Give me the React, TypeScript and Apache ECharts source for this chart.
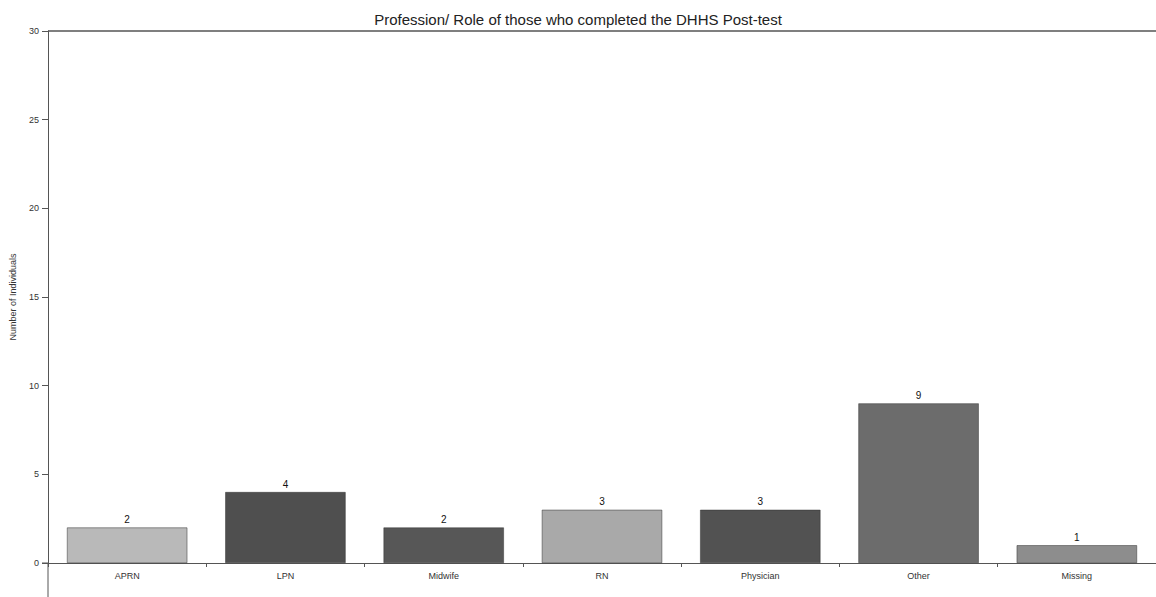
import React, { useEffect, useRef } from "react";
import * as echarts from "echarts";

const titleText = "Profession/ Role of those who completed the DHHS Post-test";
const categories = ["APRN", "LPN", "Midwife", "RN", "Physician", "Other", "Missing"];
const counts = [2, 4, 2, 3, 3, 9, 1];
const barColors = ["#b9b9b9", "#4f4f4f", "#575757", "#a9a9a9", "#525252", "#6c6c6c", "#8d8d8d"];
const yTicks = [0, 5, 10, 15, 20, 25, 30];
const yAxisName = "Number of Individuals";

export default function App() {
  const ref = useRef<HTMLDivElement>(null);
  useEffect(() => {
    if (!ref.current) return;
    const chart = echarts.init(ref.current, undefined, { renderer: "svg" });
    const font = "'Liberation Sans', Arial, sans-serif";
    chart.setOption({
      animation: false,
      backgroundColor: "#ffffff",
      title: {
        text: titleText,
        left: "center",
        top: 7,
        textStyle: { fontFamily: font, fontSize: 15, fontWeight: "normal", color: "#222" },
      },
      grid: { left: 48, right: 0, top: 31, bottom: 34, containLabel: false },
      xAxis: {
        type: "category",
        data: categories,
        axisLine: { show: true, lineStyle: { color: "#555", width: 1 } },
        axisTick: { show: true, length: 4, lineStyle: { color: "#555" } },
        axisLabel: { fontFamily: font, fontSize: 9, color: "#333", margin: 8 },
      },
      yAxis: {
        type: "value",
        min: yTicks[0],
        max: yTicks[yTicks.length - 1],
        interval: 5,
        name: yAxisName,
        nameLocation: "middle",
        nameGap: 31,
        nameTextStyle: { fontFamily: font, fontSize: 9, color: "#333" },
        axisLine: { show: true, lineStyle: { color: "#555", width: 1 } },
        axisTick: { show: true, length: 6, lineStyle: { color: "#555" } },
        axisLabel: { fontFamily: font, fontSize: 9, color: "#333", margin: 9 },
        splitLine: { show: false },
      },
      series: [
        {
          type: "bar",
          barWidth: "76%",
          data: counts.map((v, i) => ({
            value: v,
            itemStyle: { color: barColors[i], borderColor: "#333", borderWidth: 0.5 },
          })),
          label: {
            show: true,
            position: "top",
            distance: 3,
            fontFamily: font,
            fontSize: 10,
            color: "#111",
          },
        },
      ],
      graphic: [
        { type: "line", shape: { x1: 48, y1: 31, x2: 1156, y2: 31 }, style: { stroke: "#555", lineWidth: 1.5 } },
        { type: "line", shape: { x1: 48, y1: 563, x2: 48, y2: 597 }, style: { stroke: "#555", lineWidth: 1 } },
        { type: "line", shape: { x1: 42, y1: 563, x2: 48, y2: 563 }, style: { stroke: "#555", lineWidth: 1 } },
      ],
    });
    return () => chart.dispose();
  }, []);
  return (
    <div
      ref={ref}
      style={{ position: "absolute", left: 0, top: 0, width: 1156, height: 597 }}
    />
  );
}
